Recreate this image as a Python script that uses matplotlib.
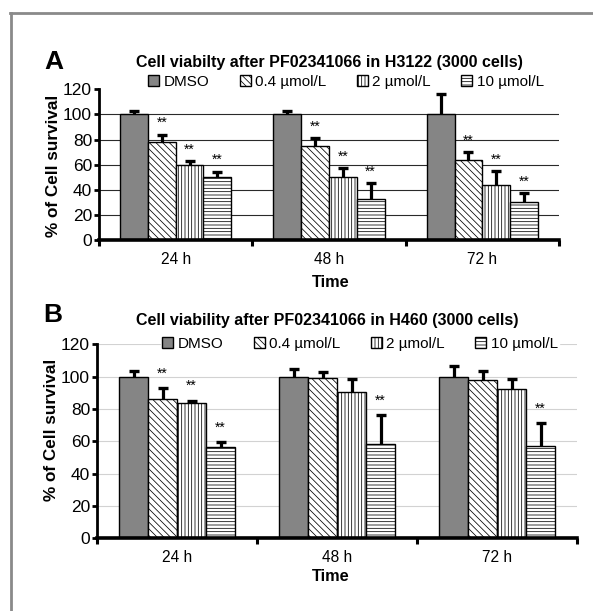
import numpy as np
import matplotlib
matplotlib.use("Agg")
import matplotlib.pyplot as plt
from matplotlib.lines import Line2D

plt.rcParams['font.family'] = ['Liberation Sans', 'DejaVu Sans']
plt.rcParams['hatch.linewidth'] = 0.55

# ---------------- data ----------------
categories = ['24 h', '48 h', '72 h']
series = ['DMSO', '0.4 µmol/L', '2 µmol/L', '10 µmol/L']

title_a = 'Cell viabilty after PF02341066 in H3122 (3000 cells)'
a_dmso = [100, 100, 100]
a_04 = [78, 75, 64]
a_2 = [60, 50, 44]
a_10 = [50, 33, 30]
a_dmso_err = [3, 3, 16.5]
a_04_err = [6, 6.5, 6]
a_2_err = [3, 7.5, 11]
a_10_err = [4.5, 12, 7.5]
a_dmso_sig = [False, False, False]
a_04_sig = [True, True, True]
a_2_sig = [True, True, True]
a_10_sig = [True, True, True]

title_b = 'Cell viability after PF02341066 in H460 (3000 cells)'
b_dmso = [100, 100, 100]
b_04 = [86, 99.4, 97.7]
b_2 = [83.7, 90.7, 92.2]
b_10 = [56.3, 58.6, 57.3]
b_dmso_err = [3.5, 4.7, 6.8]
b_04_err = [7, 3.7, 5.6]
b_2_err = [1.5, 7.7, 6.4]
b_10_err = [3, 17.5, 14]
b_dmso_sig = [False, False, False]
b_04_sig = [True, False, False]
b_2_sig = [True, False, False]
b_10_sig = [True, True, True]

yticks = [0, 20, 40, 60, 80, 100, 120]

# ---------------- style ----------------
facecolors = ['#858585', 'white', 'white', 'white']
hatches = ['', '\\\\\\\\\\', '|||||', '-----']

W, H = 593, 611
fig = plt.figure(figsize=(W / 100, H / 100), dpi=100)
fig.patch.set_facecolor('white')

def px_rect(l, r, top, bottom):
    return [l / W, 1 - bottom / H, (r - l) / W, (bottom - top) / H]

def panel(ax, vals, errs, sigs, grid_color, ylab_xy, xlab_xy):
    n = len(vals)
    group = 0.725
    w = group / n
    x = np.arange(len(categories))
    for i in range(n):
        xi = x + (i - (n - 1) / 2) * w
        ax.bar(xi, vals[i], width=w, color=facecolors[i], edgecolor='black',
               linewidth=1.0, hatch=hatches[i], label=series[i], zorder=3)
        _, caps, _ = ax.errorbar(xi, vals[i],
                                 yerr=[np.zeros(len(x)), errs[i]], fmt='none',
                                 ecolor='black', elinewidth=2.3, capsize=3.3,
                                 capthick=2.4, zorder=4)
        # keep only the upper cap (Excel "plus" error bars)
        for c in caps:
            if np.allclose(np.asarray(c.get_ydata(), float), vals[i]):
                c.set_visible(False)
        for xx, v, e, s in zip(xi, vals[i], errs[i], sigs[i]):
            if s:
                ax.text(xx, v + e + 9, '**', ha='center', va='center',
                        fontsize=10, zorder=5)
    ax.set_xlim(-0.5, len(categories) - 0.5)
    ax.set_ylim(0, 120)
    ax.set_yticks(yticks)
    ax.set_xticks(np.arange(len(categories) + 1) - 0.5)
    ax.set_xticklabels([])
    ax.set_xticks(x, minor=True)
    ax.set_xticklabels(categories, minor=True, fontsize=11.2)
    ax.tick_params(axis='x', which='minor', length=0, pad=8.5)
    ax.tick_params(axis='x', which='major', length=4, width=2.2, direction='out')
    ax.tick_params(axis='y', length=3.5, width=2.0, direction='out',
                   labelsize=12.5, pad=1.5)
    for s in ['top', 'right']:
        ax.spines[s].set_visible(False)
    ax.spines['left'].set_linewidth(2.0)
    ax.spines['bottom'].set_linewidth(2.6)
    ax.spines['left'].set_zorder(6)
    ax.spines['bottom'].set_zorder(6)
    ax.yaxis.grid(True, color=grid_color, linewidth=0.8, zorder=0)
    ax.set_axisbelow(True)
    ax.set_ylabel('% of Cell survival', fontsize=12.3, fontweight='bold')
    ax.yaxis.set_label_coords(*ylab_xy)
    ax.set_xlabel('Time', fontsize=11.7, fontweight='bold')
    ax.xaxis.label.set_va('center')
    ax.xaxis.set_label_coords(*xlab_xy)

# Panel A
axA = fig.add_axes(px_rect(99, 559, 89.3, 240))
panel(axA,
      [a_dmso, a_04, a_2, a_10],
      [a_dmso_err, a_04_err, a_2_err, a_10_err],
      [a_dmso_sig, a_04_sig, a_2_sig, a_10_sig],
      '#2a2a2a', (-0.083, 0.49), (0.504, -0.279))
for line, t in zip(axA.yaxis.get_gridlines(), yticks):
    if t == 120:
        line.set_visible(False)

# Panel B
axB = fig.add_axes(px_rect(97, 577, 344.3, 538.3))
panel(axB,
      [b_dmso, b_04, b_2, b_10],
      [b_dmso_err, b_04_err, b_2_err, b_10_err],
      [b_dmso_sig, b_04_sig, b_2_sig, b_10_sig],
      '#d2d2d2', (-0.080, 0.558), (0.4875, -0.198))

# Titles and panel letters
fig.text(329 / W, 1 - 62 / H, title_a, ha='center', va='center',
         fontsize=11.5, fontweight='bold')
fig.text(327.5 / W, 1 - 320 / H, title_b, ha='center', va='center',
         fontsize=11.5, fontweight='bold')
fig.text(54 / W, 1 - 62 / H, 'A', ha='center', va='center',
         fontsize=19, fontweight='bold')
fig.text(53 / W, 1 - 315 / H, 'B', ha='center', va='center',
         fontsize=19, fontweight='bold')

# Legends
hA, lA = axA.get_legend_handles_labels()
fig.legend(hA, lA, loc='center', bbox_to_anchor=(346 / W, 1 - 82 / H),
           ncol=4, frameon=False, fontsize=11, handlelength=0.7,
           handleheight=0.7, handletextpad=0.3, columnspacing=2.0,
           borderpad=0.1)
hB, lB = axB.get_legend_handles_labels()
fig.legend(hB, lB, loc='center', bbox_to_anchor=(360 / W, 1 - 344 / H),
           ncol=4, frameon=True, facecolor='white', edgecolor='white',
           framealpha=1, fancybox=False, fontsize=11, handlelength=0.7,
           handleheight=0.7, handletextpad=0.3, columnspacing=2.0,
           borderpad=0.1)

# Outer frame (top and left grey lines)
fig.add_artist(Line2D([11 / W, 11 / W], [0, 1 - 13 / H], color='#8a8a8a',
                      linewidth=2, transform=fig.transFigure))
fig.add_artist(Line2D([10 / W, 1], [1 - 13 / H, 1 - 13 / H], color='#8a8a8a',
                      linewidth=2, transform=fig.transFigure))

fig.savefig('out.png', dpi=100, facecolor='white')
